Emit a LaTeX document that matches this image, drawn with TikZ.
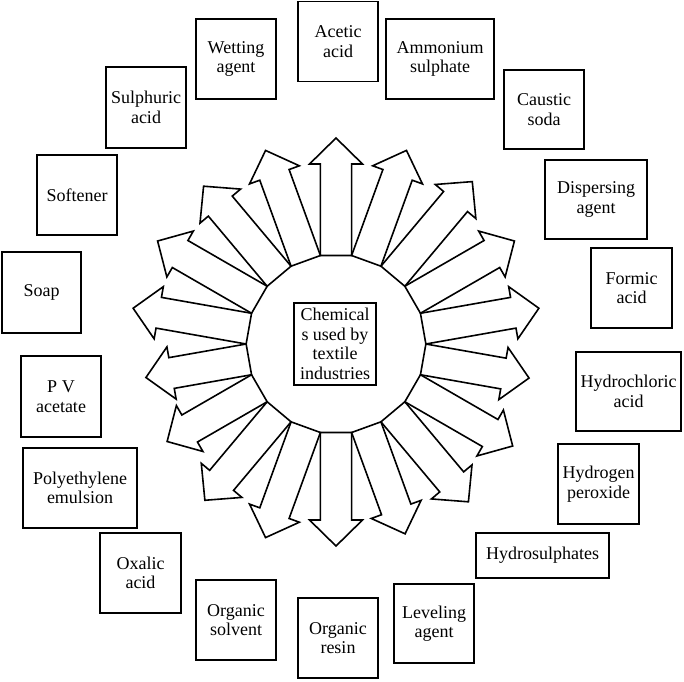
\documentclass[tikz,border=0pt]{standalone}
\usepackage{fontspec}
\setmainfont{Liberation Serif}
\begin{document}
\begin{tikzpicture}[x=1pt,y=1pt,
  lbl/.style={draw, line width=1.8pt, align=center, inner sep=0pt,
    font=\fontsize{18}{19.5}\selectfont},
  arr/.style={draw, fill=white, line width=1.6pt, line join=miter}]
\useasboundingbox (0,0) rectangle (684,-681);
\coordinate (C) at (336,-344);
% radiating arrows (base = edge of an 18-gon)
\foreach \a/\L in {90/206,110/206,130/206,150/206,170/206,190/193,210/195,230/204,250/206,270/202,290/202,310/206,330/204,350/196,10/206,30/206,50/212,70/206}{
  \draw[arr, shift={(C)}, rotate=\a]
    (88.5,15.6) -- ({\L-26},15.6) -- ({\L-26},26.5) -- (\L,0)
    -- ({\L-26},-26.5) -- ({\L-26},-15.6) -- (88.5,-15.6) -- cycle;
}
\node[lbl, minimum width=82, minimum height=82] (center) at (335,-344)
  {Chemical\\s used by\\textile\\industries};
% boxes
\node[lbl, minimum width=80,  minimum height=80] (acetic)   at (338,-41.5)  {Acetic\\acid};
\node[lbl, minimum width=108, minimum height=80] (ammonium) at (440,-59)    {Ammonium\\sulphate};
\node[lbl, minimum width=80,  minimum height=79] (caustic)  at (544,-109.5) {Caustic\\soda};
\node[lbl, minimum width=102, minimum height=79] (dispers)  at (596,-199.5) {Dispersing\\agent};
\node[lbl, minimum width=81,  minimum height=80] (formic)   at (631.5,-288) {Formic\\acid};
\node[lbl, minimum width=105, minimum height=79] (hcl)      at (628.5,-391.5) {Hydrochloric\\acid};
\node[lbl, minimum width=81,  minimum height=80] (hperox)   at (598.5,-484) {Hydrogen\\peroxide};
\node[lbl, minimum width=133, minimum height=45] (hydrosul) at (542.5,-555.5) {Hydrosulphates};
\node[lbl, minimum width=80,  minimum height=79] (level)    at (434,-623.5) {Leveling\\agent};
\node[lbl, minimum width=80,  minimum height=80] (resin)    at (338,-638)   {Organic\\resin};
\node[lbl, minimum width=80,  minimum height=80] (solvent)  at (236,-620)   {Organic\\solvent};
\node[lbl, minimum width=81,  minimum height=80] (oxalic)   at (140.5,-573) {Oxalic\\acid};
\node[lbl, minimum width=114, minimum height=80] (polyeth)  at (80,-488)    {Polyethylene\\emulsion};
\node[lbl, minimum width=80,  minimum height=81] (pvac)     at (61,-396.5)  {P V\\acetate};
\node[lbl, minimum width=79,  minimum height=81] (soap)     at (41.5,-292.5) {Soap};
\node[lbl, minimum width=80,  minimum height=80] (soften)   at (77,-195)    {Softener};
\node[lbl, minimum width=80,  minimum height=81] (sulph)    at (146,-107.5) {Sulphuric\\acid};
\node[lbl, minimum width=80,  minimum height=80] (wetting)  at (236,-59)    {Wetting\\agent};
\end{tikzpicture}
\end{document}
